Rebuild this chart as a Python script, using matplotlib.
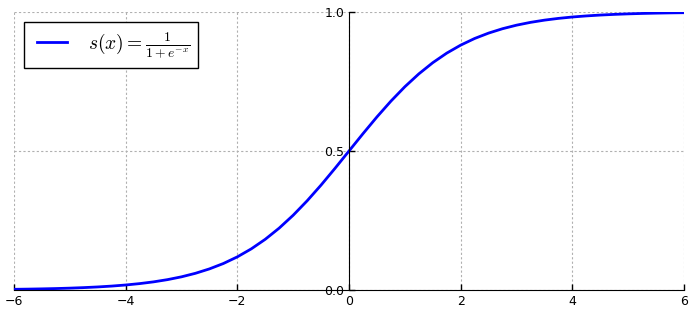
import matplotlib
matplotlib.use("Agg")
import matplotlib.pyplot as plt

x_vals = [-6.0, -5.75, -5.5, -5.25, -5.0, -4.75, -4.5, -4.25, -4.0, -3.75, -3.5, -3.25,
          -3.0, -2.75, -2.5, -2.25, -2.0, -1.75, -1.5, -1.25, -1.0, -0.75, -0.5, -0.25,
          0.0, 0.25, 0.5, 0.75, 1.0, 1.25, 1.5, 1.75, 2.0, 2.25, 2.5, 2.75,
          3.0, 3.25, 3.5, 3.75, 4.0, 4.25, 4.5, 4.75, 5.0, 5.25, 5.5, 5.75, 6.0]
s_vals = [0.0025, 0.0032, 0.0041, 0.0052, 0.0067, 0.0086, 0.0110, 0.0141, 0.0180, 0.0230, 0.0293, 0.0373,
          0.0474, 0.0601, 0.0759, 0.0953, 0.1192, 0.1480, 0.1824, 0.2227, 0.2689, 0.3208, 0.3775, 0.4378,
          0.5000, 0.5622, 0.6225, 0.6792, 0.7311, 0.7773, 0.8176, 0.8520, 0.8808, 0.9047, 0.9241, 0.9399,
          0.9526, 0.9627, 0.9707, 0.9770, 0.9820, 0.9859, 0.9890, 0.9914, 0.9933, 0.9948, 0.9959, 0.9968, 0.9975]
x_ticks = [-6, -4, -2, 0, 2, 4, 6]
y_ticks = [0.0, 0.5, 1.0]
y_tick_labels = ["0.0", "0.5", "1.0"]
legend_label = r"$s(x)=\frac{1}{1+e^{-x}}$"

plt.rcParams['mathtext.fontset'] = 'cm'
plt.rcParams['font.family'] = ['DejaVu Sans']

fig = plt.figure(figsize=(6.93, 3.12), dpi=100, facecolor='white')
ax = fig.add_axes([14/693, 22/312, 670/693, 278/312])
ax.plot(x_vals, s_vals, color='blue', linewidth=2, label=legend_label)

ax.set_xlim(-6, 6)
ax.set_ylim(0, 1)
ax.set_xticks(x_ticks)
ax.set_yticks(y_ticks)
ax.set_yticklabels(y_tick_labels)

ax.spines['left'].set_position(('data', 0))
ax.spines['bottom'].set_position(('data', 0))
ax.spines['top'].set_visible(False)
ax.spines['right'].set_visible(False)
ax.xaxis.set_ticks_position('bottom')
ax.yaxis.set_ticks_position('left')
ax.tick_params(direction='in', length=4, width=1, labelsize=9)

ax.grid(True, linestyle=(0, (2, 2)), color='#b0b0b0', linewidth=0.8)

leg = ax.legend(loc='upper left', fontsize=14, handlelength=1.78, handletextpad=1.08,
                fancybox=False, framealpha=1, edgecolor='black', borderpad=0.43,
                borderaxespad=0.5)
leg.get_frame().set_linewidth(1)
for ln in leg.get_lines():
    xd = list(ln.get_xdata())
    yd = list(ln.get_ydata())
    if len(xd) >= 2:
        x0 = xd[0] + 3.3
        x1 = xd[-1]
        ln.set_data([x0, x1], [yd[0], yd[-1]])

fig.savefig('out.png', dpi=100, facecolor='white')
